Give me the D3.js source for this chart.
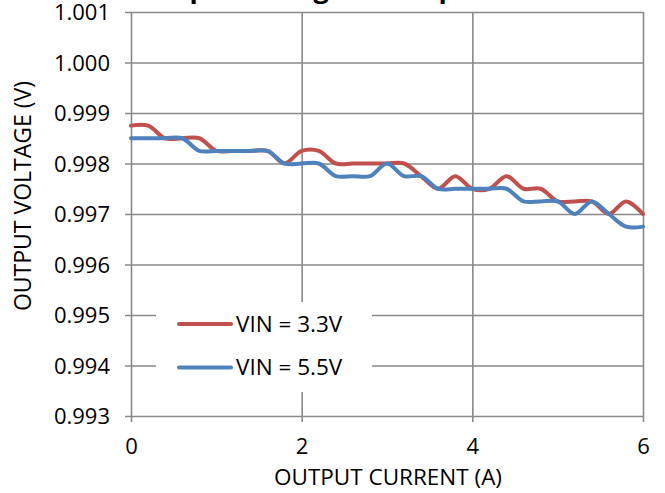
<!DOCTYPE html>
<html><head><meta charset="utf-8">
<script src="https://cdn.jsdelivr.net/npm/d3@7"></script>
<style>body{margin:0;background:#fff}svg{display:block}text{font-family:"Open Sans","Noto Sans",sans-serif;fill:#000}</style>
</head><body>
<svg id="c" width="665" height="493"></svg>
<script>
const titleText = "Output Voltage vs Output Current";
const xLabel = "OUTPUT CURRENT (A)";
const yLabel = "OUTPUT VOLTAGE (V)";
const currents = [0,0.2,0.4,0.6,0.8,1.0,1.2,1.4,1.6,1.8,2.0,2.2,2.4,2.6,2.8,3.0,3.2,3.4,3.6,3.8,4.0,4.2,4.4,4.6,4.8,5.0,5.2,5.4,5.6,5.8,6.0];
const vin33 = [0.99875,0.99875,0.9985,0.9985,0.9985,0.99825,0.99825,0.99825,0.99825,0.998,0.99825,0.99825,0.998,0.998,0.998,0.998,0.998,0.99775,0.9975,0.99775,0.9975,0.9975,0.99775,0.9975,0.9975,0.99725,0.99725,0.99725,0.997,0.99725,0.997];
const vin55 = [0.9985,0.9985,0.9985,0.9985,0.99825,0.99825,0.99825,0.99825,0.99825,0.998,0.998,0.998,0.99775,0.99775,0.99775,0.998,0.99775,0.99775,0.9975,0.9975,0.9975,0.9975,0.9975,0.99725,0.99725,0.99725,0.997,0.99725,0.997,0.99675,0.99675];
const seriesNames = ["VIN = 3.3V","VIN = 5.5V"];
const seriesColors = ["#C0504D","#4F81BD"];
const xTicks = [0,2,4,6];
const yTicks = [0.993,0.994,0.995,0.996,0.997,0.998,0.999,1.000,1.001];

const svg = d3.select("#c");
const x = d3.scaleLinear().domain([0,6]).range([131,643]);
const y = d3.scaleLinear().domain([0.993,1.001]).range([416,12]);
const grid = "#898989";

const yAxis = d3.axisLeft(y).tickValues(yTicks).tickFormat(d3.format(".3f")).tickSize(-(643-131)).tickSizeOuter(0);
const gy = svg.append("g").attr("transform","translate(131,0)").call(yAxis);
gy.select(".domain").remove();
gy.selectAll(".tick line").attr("stroke",grid).attr("stroke-width",1.6).attr("x1",-6);
gy.selectAll(".tick text").attr("x",-21).attr("font-size",22).attr("dy","0.35em").style("font-family",'"Open Sans",sans-serif');

const xAxis = d3.axisBottom(x).tickValues(xTicks).tickFormat(d3.format("d")).tickSize(-(416-12)).tickSizeOuter(0);
const gx = svg.append("g").attr("transform","translate(0,416)").call(xAxis);
gx.select(".domain").remove();
gx.selectAll(".tick line").attr("stroke",grid).attr("stroke-width",1.6).attr("y1",6);
gx.selectAll(".tick text").attr("y",22).attr("font-size",22).attr("dy","0.71em").style("font-family",'"Open Sans",sans-serif');

const line = d3.line().x((d,i)=>x(currents[i])).y(d=>y(d)).curve(d3.curveCatmullRom.alpha(0.5));
[vin33,vin55].forEach((s,k)=>{
  svg.append("path").datum(s).attr("d",line).attr("fill","none")
    .attr("stroke",seriesColors[k]).attr("stroke-width",4).attr("stroke-linejoin","round").attr("stroke-linecap","round");
});

const lg = svg.append("g");
lg.append("rect").attr("x",156).attr("y",302).attr("width",216).attr("height",90).attr("fill","#fff");
seriesNames.forEach((n,k)=>{
  const yy = 324 + k*43.5;
  lg.append("line").attr("x1",179).attr("x2",231).attr("y1",yy).attr("y2",yy)
    .attr("stroke",seriesColors[k]).attr("stroke-width",4).attr("stroke-linecap","round");
  lg.append("text").attr("x",236).attr("y",yy).attr("dy","0.35em").attr("font-size",22.5).text(n);
});

svg.append("text").attr("x",388).attr("y",485).attr("text-anchor","middle").attr("font-size",22.5).text(xLabel);
svg.append("text").attr("transform","translate(31,196) rotate(-90)").attr("text-anchor","middle").attr("font-size",23).text(yLabel);

const t = svg.append("text").attr("y",-2).attr("font-size",27).attr("font-weight","bold").text(titleText);
try {
  const node = t.node();
  const p1 = node.getStartPositionOfChar(3).x + node.getExtentOfChar(3).width/2;
  t.attr("x", 198 - p1);
} catch(e) { t.attr("x",140); }
</script>
</body></html>
